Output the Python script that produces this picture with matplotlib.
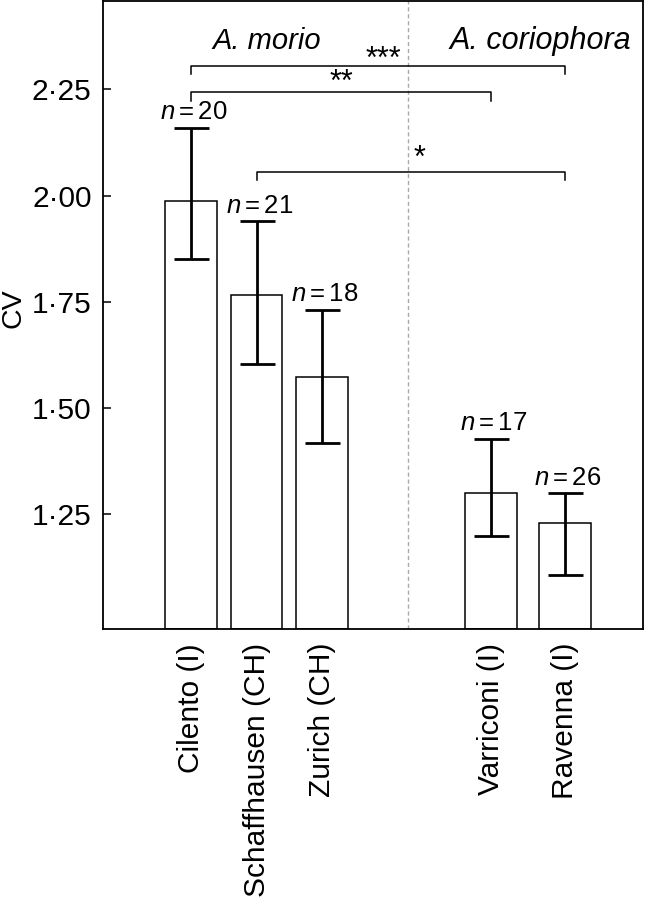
import matplotlib
matplotlib.use("Agg")
import matplotlib.pyplot as plt
import numpy as np

plt.rcParams['font.family'] = ['Liberation Sans', 'DejaVu Sans']
plt.rcParams['mathtext.fontset'] = 'custom'
plt.rcParams['mathtext.rm'] = 'Liberation Sans'
plt.rcParams['mathtext.it'] = 'Liberation Sans:italic'

# data
sites = ['Cilento (I)', 'Schaffhausen (CH)', 'Zurich (CH)', 'Varriconi (I)', 'Ravenna (I)']
xpos = [1, 2, 3, 5.57, 6.7]
cv = [1.986, 1.766, 1.574, 1.299, 1.229]
err_low = [1.850, 1.603, 1.418, 1.199, 1.107]
err_high = [2.160, 1.939, 1.731, 1.428, 1.299]
nsamp = [20, 21, 18, 17, 26]
yticks = [1.25, 1.50, 1.75, 2.00, 2.25]
ytick_labels = ['1·25', '1·50', '1·75', '2·00', '2·25']

# significance brackets: (left bar, right bar, level, stars, star x, star y)
brackets = [(0, 4, 2.305, '***', 3.93, 2.301),
            (0, 3, 2.243, '**', 3.30, 2.247),
            (1, 4, 2.056, '*', 4.48, 2.068)]

fig = plt.figure(figsize=(6.47, 8.99), dpi=100)
ax = fig.add_axes([0.1587, 0.3003, 0.8351, 0.6987])

cv = np.array(cv)
yerr = np.array([cv - np.array(err_low), np.array(err_high) - cv])
ax.bar(xpos, cv - 0.98, bottom=0.98, width=0.79, color='white',
       edgecolor='black', linewidth=1.1, zorder=2)
ax.errorbar(xpos, cv, yerr=yerr, fmt='none', ecolor='black', elinewidth=2,
            capsize=12.6, capthick=2, zorder=3)

for x, top, n in zip(xpos, err_high, nsamp):
    ax.text(x + 0.04, top + 0.008, r'$\mathit{n}=%d$' % n, ha='center',
            va='bottom', fontsize=18.5)

for i, j, lev, stars, sx, sy in brackets:
    ax.plot([xpos[i], xpos[i], xpos[j], xpos[j]],
            [lev - 0.02, lev, lev, lev - 0.02], color='black', lw=1.1)
    ax.text(sx, sy, stars, ha='center', va='baseline', fontsize=22)

ax.axvline(4.31, color='#aaaaaa', lw=1, ls=(0, (3, 2)), zorder=1)

ax.text(2.16, 2.344, 'A. morio', style='italic', ha='center', va='baseline', fontsize=21)
ax.text(6.33, 2.344, 'A. coriophora', style='italic', ha='center', va='baseline', fontsize=22)

ax.set_xlim(-0.346, 7.89)
ax.set_ylim(0.98, 2.458)
ax.set_yticks(yticks)
ax.set_yticklabels(ytick_labels)
ax.set_xticks(xpos)
ax.set_xticklabels(sites, rotation=90)
ax.tick_params(direction='in', length=6, width=1.1, labelsize=21.5)
ax.tick_params(axis='y', pad=8)
ax.tick_params(axis='x', pad=10)
for s in ax.spines.values():
    s.set_linewidth(1.3)

fig.text(1 / 647, 1 - 308 / 899, 'CV', rotation=90, ha='left', va='center',
         fontsize=20.5)

fig.savefig('out.png', dpi=100)
